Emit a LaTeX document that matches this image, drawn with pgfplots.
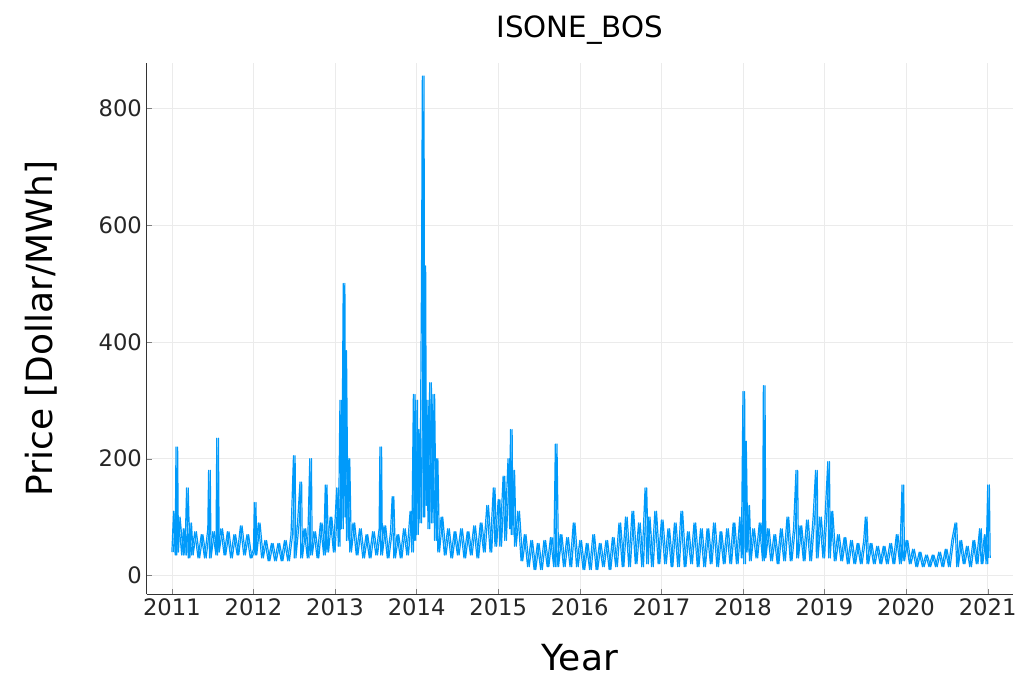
\documentclass[border=0pt]{standalone}
\usepackage{pgfplots}
\pgfplotsset{compat=1.18}
\usepackage{fontspec}
\setmainfont{DejaVu Sans}
\definecolor{jblue}{HTML}{009AFA}
\pgfplotstableread{
x y
2011.00 40
2011.02 110
2011.04 35
2011.05 220
2011.06 40
2011.08 100
2011.12 35
2011.14 80
2011.16 35
2011.18 150
2011.20 30
2011.22 90
2011.24 35
2011.28 75
2011.32 30
2011.36 70
2011.40 30
2011.44 80
2011.45 180
2011.46 30
2011.50 75
2011.54 35
2011.55 235
2011.56 40
2011.60 80
2011.64 35
2011.68 75
2011.72 30
2011.76 70
2011.80 35
2011.84 85
2011.88 35
2011.92 70
2011.96 30
2012.00 45
2012.01 125
2012.02 35
2012.06 90
2012.10 30
2012.14 60
2012.18 25
2012.22 55
2012.26 25
2012.30 55
2012.34 25
2012.38 60
2012.42 25
2012.46 70
2012.49 205
2012.50 30
2012.54 90
2012.57 160
2012.58 30
2012.62 80
2012.66 30
2012.69 200
2012.70 35
2012.74 75
2012.78 30
2012.82 90
2012.86 35
2012.88 155
2012.90 40
2012.94 100
2012.98 40
2013.02 150
2013.04 50
2013.06 300
2013.08 80
2013.10 500
2013.11 100
2013.12 385
2013.14 60
2013.16 200
2013.18 40
2013.22 90
2013.26 35
2013.30 80
2013.34 30
2013.38 70
2013.42 30
2013.46 75
2013.50 35
2013.54 80
2013.55 220
2013.56 35
2013.60 85
2013.64 30
2013.68 75
2013.70 135
2013.72 30
2013.76 70
2013.80 30
2013.84 80
2013.88 35
2013.92 110
2013.94 40
2013.96 310
2013.97 60
2013.99 300
2014.00 70
2014.02 250
2014.04 90
2014.06 520
2014.07 855
2014.08 100
2014.09 530
2014.10 120
2014.12 300
2014.14 80
2014.16 330
2014.18 90
2014.20 310
2014.22 60
2014.24 200
2014.26 40
2014.30 100
2014.34 35
2014.38 80
2014.42 30
2014.46 75
2014.50 35
2014.54 80
2014.58 30
2014.62 75
2014.66 35
2014.70 85
2014.74 30
2014.78 90
2014.82 40
2014.86 120
2014.90 40
2014.94 150
2014.96 50
2015.00 130
2015.02 50
2015.06 170
2015.08 60
2015.12 200
2015.14 80
2015.15 250
2015.16 70
2015.18 180
2015.20 50
2015.24 110
2015.28 25
2015.32 70
2015.36 15
2015.40 60
2015.44 10
2015.48 55
2015.52 10
2015.56 60
2015.60 15
2015.64 65
2015.68 15
2015.70 225
2015.72 15
2015.76 70
2015.80 15
2015.84 65
2015.88 15
2015.92 90
2015.96 15
2016.00 60
2016.04 10
2016.08 55
2016.12 10
2016.16 70
2016.20 10
2016.24 55
2016.28 15
2016.32 60
2016.36 10
2016.40 65
2016.44 15
2016.48 90
2016.52 15
2016.56 100
2016.60 15
2016.64 110
2016.68 20
2016.72 90
2016.76 15
2016.80 150
2016.82 20
2016.84 100
2016.88 15
2016.92 110
2016.96 20
2017.00 95
2017.04 20
2017.08 80
2017.12 15
2017.16 90
2017.20 15
2017.24 110
2017.28 15
2017.32 75
2017.36 20
2017.40 90
2017.44 15
2017.48 80
2017.52 15
2017.56 80
2017.60 20
2017.64 90
2017.68 15
2017.72 75
2017.76 20
2017.80 80
2017.84 20
2017.88 90
2017.92 20
2017.96 100
2017.98 30
2018.00 315
2018.01 20
2018.02 230
2018.04 40
2018.06 120
2018.08 25
2018.12 80
2018.16 30
2018.20 90
2018.24 25
2018.25 325
2018.26 30
2018.30 80
2018.34 25
2018.38 70
2018.42 20
2018.46 80
2018.50 25
2018.54 100
2018.58 25
2018.62 80
2018.65 180
2018.66 30
2018.70 85
2018.74 25
2018.78 95
2018.82 25
2018.86 100
2018.89 180
2018.90 30
2018.94 100
2018.98 30
2019.04 195
2019.05 30
2019.08 110
2019.12 25
2019.16 70
2019.20 25
2019.24 65
2019.28 20
2019.32 60
2019.36 20
2019.40 55
2019.44 20
2019.48 60
2019.50 100
2019.52 20
2019.56 55
2019.60 20
2019.64 50
2019.68 20
2019.72 50
2019.76 20
2019.80 55
2019.84 20
2019.88 70
2019.92 20
2019.95 155
2019.96 25
2020.00 60
2020.04 20
2020.08 45
2020.12 15
2020.16 40
2020.20 15
2020.24 35
2020.28 15
2020.32 35
2020.36 15
2020.40 40
2020.44 15
2020.48 45
2020.52 15
2020.56 60
2020.60 90
2020.62 15
2020.66 60
2020.70 20
2020.74 50
2020.78 15
2020.82 60
2020.86 20
2020.90 80
2020.92 20
2020.96 70
2020.98 20
2021.00 155
2021.01 30
}\prices
\begin{document}
\begin{tikzpicture}
\path[use as bounding box] (-110pt,-72pt) rectangle (665pt,446pt);
\begin{axis}[
  scale only axis, width=650pt, height=399pt,
  xmin=2010.69, xmax=2021.31, ymin=-32.5, ymax=878,
  axis lines*=left,
  axis line style={black!80},
  xtick={2011,...,2021},
  xticklabel style={/pgf/number format/1000 sep={}},
  ytick={0,200,400,600,800},
  /pgf/number format/assume math mode=true,
  tick label style={font=\fontsize{17}{17}\selectfont, text=black!85},
  grid=major, major grid style={black!8},
  tick align=inside, major tick length=4pt,
  title={ISONE\_BOS}, title style={font=\fontsize{22}{22}\selectfont, yshift=4pt},
  xlabel={Year}, ylabel={Price [Dollar/MWh]},
  label style={font=\fontsize{27}{27}\selectfont},
  xlabel style={yshift=-14pt}, ylabel style={yshift=24pt},
]
\addplot[jblue, line width=0.9pt, line join=round, x filter/.expression={x+0.02}, restrict x to domain=2011:2021.02] table[x=x,y=y] {\prices};
\addplot[jblue, line width=0.9pt, line join=round] table[x=x,y=y] {\prices};
\end{axis}
\end{tikzpicture}
\end{document}
